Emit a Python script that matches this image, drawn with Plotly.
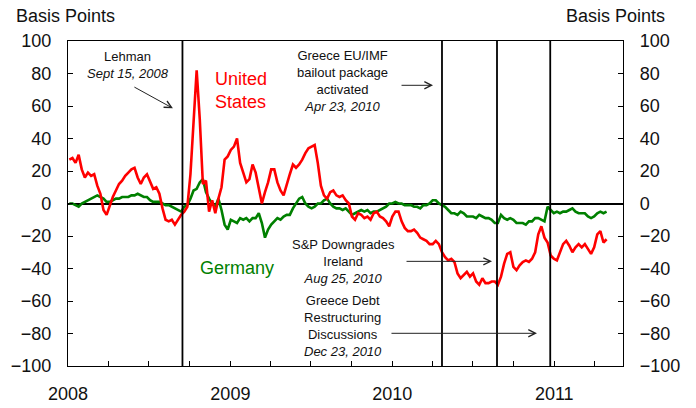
import pandas as pd
import plotly.graph_objects as go

# Weekly observations (Fridays), spread changes in basis points
week_start = "2008-01-04"

us_bp = [
    27, 28, 25, 30, 21, 16, 19, 17, 18, 11,
    6, -4, -7, -1, 4, 8, 12, 14, 17, 19,
    21, 22, 16, 12, 16, 18, 13, 9, 10, 6,
    -3, -10, -11, -10, -13, -10, -7, -5, -2, 18,
    47, 82, 52, 12, 14, -5, 2, -6, 3, 10,
    27, 29, 33, 35, 40, 25, 19, 13, 15, 24,
    19, 9, 0, 7, 13, 21, 21, 13, 8, 5,
    12, 18, 24, 22, 24, 27, 31, 34, 35, 36,
    25, 11, 5, 3, 7, 8, 5, 4, 5, 2,
    0, -8, -10, -6, -7, -9, -8, -10, -6, -5,
    -8, -9, -11, -14, -8, -5, -5, -11, -15, -17,
    -17, -16, -18, -21, -22, -23, -25, -25, -23, -25,
    -30, -33, -35, -34, -36, -43, -46, -44, -42, -45,
    -43, -48, -50, -46, -49, -49, -48, -48, -50, -45,
    -37, -31, -30, -39, -41, -38, -36, -35, -36, -34,
    -30, -19, -14, -21, -24, -32, -34, -35, -30, -25,
    -23, -26, -30, -27, -25, -27, -25, -28, -31, -27,
    -19, -17, -24, -22,
]

germany_bp = [
    0, 0, -1, -2, 0, 1, 2, 3, 4, 5,
    4, 3, 1, 1, 2, 3, 3, 4, 4, 4,
    5, 5, 6, 5, 4, 4, 2, 1, 1, 1,
    0, -1, -1, -2, -3, -4, -5, -2, -1, 3,
    8, 9, 13, 15, 7, 3, 0, -2, 3, -4,
    -13, -16, -10, -11, -12, -9, -10, -9, -11, -9,
    -9, -6, -12, -21, -16, -13, -11, -9, -10, -8,
    -7, -7, -3, 0, 3, 4, 0, -2, -3, -2,
    0, 0, 2, 3, 0, -2, -3, -3, -4, -3,
    -5, -7, -6, -5, -4, -5, -4, -6, -5, -5,
    -4, -3, -2, 0, 0, 1, 0, 0, -1, -1,
    -1, -2, -2, -3, -1, -1, 0, 2, 2, 0,
    -1, -2, -4, -6, -6, -7, -5, -6, -8, -8,
    -8, -9, -7, -8, -9, -9, -10, -12, -12, -7,
    -9, -10, -9, -10, -12, -12, -12, -13, -11, -11,
    -9, -9, -10, -11, -2, -4, -6, -5, -6, -5,
    -5, -4, -3, -5, -6, -6, -6, -8, -9, -8,
    -6, -5, -6, -5,
]

event_dates = ["2008-09-15", "2010-04-23", "2010-08-25", "2010-12-23"]

x_start, x_end = "2008-01-01", "2011-06-05"
quarter_ticks = pd.date_range("2008-01-01", "2011-04-01", freq="QS")
year_labels = [str(d.year) if d.month == 1 else "" for d in quarter_ticks]
y_ticks = list(range(-100, 101, 20))

dates = pd.date_range(week_start, periods=len(us_bp), freq="7D")

FONT = "Arial, 'Liberation Sans', sans-serif"

fig = go.Figure()
fig.add_trace(go.Scatter(x=dates, y=germany_bp, mode="lines",
                         line=dict(color="#008000", width=2.6), name="Germany"))
fig.add_trace(go.Scatter(x=dates, y=us_bp, mode="lines",
                         line=dict(color="#FF0000", width=2.6), name="United States"))
# right-hand axis mirrors the left scale
fig.add_trace(go.Scatter(x=dates, y=us_bp, yaxis="y2", mode="lines",
                         line=dict(width=0), hoverinfo="skip", showlegend=False,
                         opacity=0))

shapes = [dict(type="line", xref="x", yref="paper", x0=d, x1=d, y0=0, y1=1,
               line=dict(color="black", width=1.8), layer="above")
          for d in event_dates]

txt = dict(family=FONT, size=13, color="#111111")
big = dict(family=FONT, size=18)

def note(text, x, y, font=txt, xanchor="center", align="center"):
    return dict(text=text, x=x, y=y, xref="paper", yref="paper", showarrow=False,
                font=font, xanchor=xanchor, yanchor="middle", align=align)

def arrow(x, y, ax, ay):
    return dict(text="", x=x, y=y, xref="paper", yref="paper", ax=ax, ay=ay,
                showarrow=True, arrowhead=5, arrowsize=1.4, arrowwidth=1,
                arrowcolor="#222222", standoff=0)

annotations = [
    note("Basis Points", -0.0045, 1.076, dict(family=FONT, size=18, color="#111111")),
    note("Basis Points", 0.987, 1.076, dict(family=FONT, size=18, color="#111111")),
    note("Lehman<br><i>Sept 15, 2008</i>", 0.108, 0.925),
    note("United<br>States", 0.261, 0.847, dict(big, color="#FF0000"),
         xanchor="left", align="left"),
    note("Germany", 0.3045, 0.301, dict(big, color="#008000")),
    note("Greece EU/IMF<br>bailout package<br>activated<br><i>Apr 23, 2010</i>",
         0.4937, 0.876),
    note("S&P Downgrades<br>Ireland<br><i>Aug 25, 2010</i>", 0.4955, 0.322),
    note("Greece Debt<br>Restructuring<br>Discussions<br><i>Dec 23, 2010</i>",
         0.4955, 0.1245),
    arrow(0.189, 0.793, -40, -22),
    arrow(0.6577, 0.8637, -33, 0),
    arrow(0.764, 0.322, -87, 0),
    arrow(0.845, 0.1006, -147, 0),
]

axis_common = dict(range=[-100, 100], tickvals=y_ticks, ticks="inside", ticklen=5,
                   tickcolor="black", showgrid=False, showline=True,
                   linecolor="black", linewidth=1.3, automargin=False,
                   tickfont=dict(family=FONT, size=18, color="#111111"),
                   ticklabelstandoff=12)

fig.update_layout(
    width=696, height=408,
    margin=dict(l=68, r=73, t=41, b=42),
    paper_bgcolor="white", plot_bgcolor="white",
    showlegend=False,
    xaxis=dict(range=[x_start, x_end], tickvals=quarter_ticks, ticktext=year_labels,
               ticks="inside", ticklen=5, tickcolor="black", showgrid=False,
               showline=True, mirror=True, linecolor="black", linewidth=1.3,
               automargin=False,
               tickfont=dict(family=FONT, size=18, color="#111111"),
               ticklabelstandoff=11),
    yaxis=dict(zeroline=True, zerolinecolor="black", zerolinewidth=1.5, **axis_common),
    yaxis2=dict(overlaying="y", side="right", zeroline=False, **axis_common),
    shapes=shapes,
    annotations=annotations,
)

fig.write_html("out.html")
